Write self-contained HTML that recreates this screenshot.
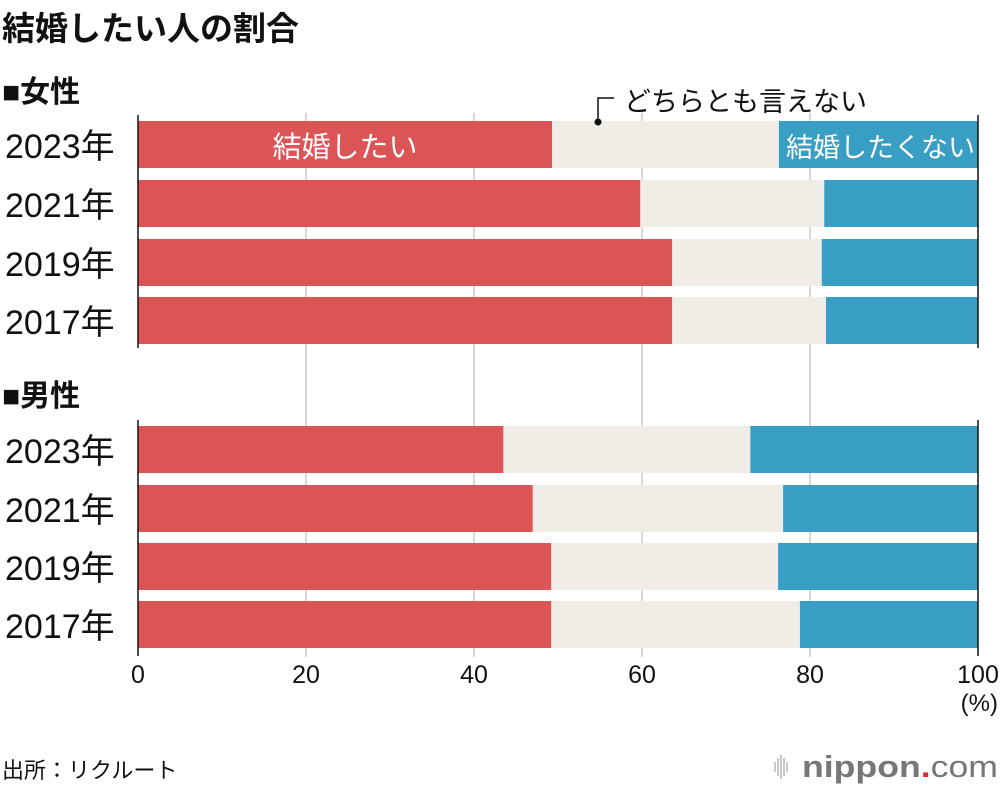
<!DOCTYPE html>
<html><head><meta charset="utf-8">
<style>
body{margin:0;background:#fff;}
svg{display:block;font-family:"Liberation Sans","Noto Sans CJK JP",sans-serif;}
</style></head>
<body>
<svg id="c" width="1000" height="790" viewBox="0 0 1000 790" xmlns="http://www.w3.org/2000/svg">
<text x="2" y="40" font-size="33" font-weight="bold" fill="#111">結婚したい人の割合</text>
<text x="2" y="102" font-size="30" font-weight="bold" fill="#111">■女性</text>
<text x="2" y="406" font-size="30" font-weight="bold" fill="#111">■男性</text>
<g id="grid"></g>
<g id="bars"></g>
<g id="labels"></g>
<text x="624" y="111" font-size="27" fill="#111">どちらとも言えない</text>
<path d="M614 98 H598 V121" stroke="#111" stroke-width="1.5" fill="none"/>
<circle cx="598" cy="122" r="3.5" fill="#111"/>
<text x="998" y="711" font-size="24" text-anchor="end" fill="#111">(%)</text>
<text x="2" y="778" font-size="22" fill="#111">出所：リクルート</text>
<g>
<g stroke="#aaa" stroke-width="1.3"><line x1="775" y1="762" x2="775" y2="772"/><line x1="778" y1="758" x2="778" y2="776"/><line x1="781" y1="755" x2="781" y2="779"/><line x1="784" y1="758" x2="784" y2="776"/><line x1="787" y1="762" x2="787" y2="772"/></g>
<text x="998" y="777" font-size="31" fill="#777" text-anchor="end" textLength="196" lengthAdjust="spacingAndGlyphs"><tspan font-weight="bold">nippon</tspan><tspan fill="#e5262b" font-weight="bold">.</tspan>com</text>
</g>
</svg>
<script>
const years = ["2023年","2021年","2019年","2017年"];
const femaleWant = [49.3, 59.8, 63.6, 63.6];
const femaleNeutral = [27.0, 21.9, 17.8, 18.3];
const maleWant = [43.5, 47.0, 49.2, 49.2];
const maleNeutral = [29.4, 29.8, 27.0, 29.6];
const xTicks = [0, 20, 40, 60, 80, 100];

const NS = "http://www.w3.org/2000/svg";
const X0 = 138, X1 = 978;
const xs = v => X0 + (X1 - X0) * v / 100;
const femaleY = [121, 180, 239, 297];
const maleY = [426, 485, 543, 601];
const BH = 47;
function mk(tag, attrs, parent){const e=document.createElementNS(NS,tag);for(const k in attrs)e.setAttribute(k,attrs[k]);parent.appendChild(e);return e;}
const grid=document.getElementById('grid'), bars=document.getElementById('bars'), labels=document.getElementById('labels');

xTicks.forEach(t=>{
  if(t>0&&t<100){
    const l=mk('line',{x1:xs(t),x2:xs(t),y1:113,y2:657,stroke:'#ccc','stroke-width':1.5},grid);
    
    
  }
  const tx=mk('text',{x:xs(t),y:683,'font-size':25,'text-anchor':'middle',fill:'#111'},labels);
  tx.textContent=t;
  
  
});

function group(want, neutral, ys, prefix){
  years.forEach((yr,i)=>{
    const y=ys[i];
    const w=want[i], n=neutral[i];
    const r1=mk('rect',{x:xs(0),y:y,width:xs(w)-xs(0),height:BH,fill:'#db5557'},bars);
    
    
    const r2=mk('rect',{x:xs(w),y:y,width:xs(w+n)-xs(w),height:BH,fill:'#f0ece6'},bars);
    
    
    const r3=mk('rect',{x:xs(w+n),y:y,width:xs(100)-xs(w+n),height:BH,fill:'#389ec4'},bars);
    
    
    const t=mk('text',{x:5,y:y+37,'font-size':34,fill:'#111'},labels);
    t.textContent=yr;
    
    
  });
  const top=ys[0]-6, bot=ys[ys.length-1]+BH+(prefix==='male'?8:4);
  [0,100].forEach(v=>{
    const l=mk('line',{x1:xs(v),x2:xs(v),y1:top,y2:bot,stroke:'#111','stroke-width':1.5},bars);
    
    
  });
}
group(femaleWant,femaleNeutral,femaleY,'female');
group(maleWant,maleNeutral,maleY,'male');

const a=mk('text',{x:(xs(0)+xs(femaleWant[0]))/2,y:femaleY[0]+36,'font-size':29,fill:'#fff','text-anchor':'middle'},labels);
a.textContent='結婚したい';


const b=mk('text',{x:975,y:femaleY[0]+36,'font-size':27,fill:'#fff','text-anchor':'end'},labels);
b.textContent='結婚したくない';


</script>
</body></html>
